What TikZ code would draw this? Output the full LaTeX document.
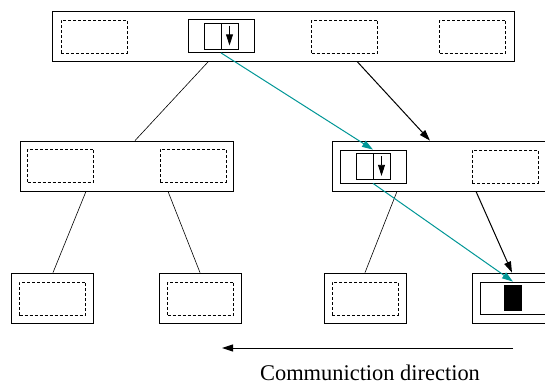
\documentclass[tikz,border=0pt]{standalone}
\usepackage{fontspec}
\setmainfont{Liberation Serif}
\usepackage{tikz}
\usetikzlibrary{calc,arrows.meta}
\definecolor{flow}{RGB}{0,150,150}

\begin{document}
\begin{tikzpicture}[x=1bp,y=-1bp,>={Triangle[length=11bp,width=7bp]},
  box/.style={draw,line width=0.8bp,inner sep=0pt,minimum height=50bp},
  dbox/.style={draw,dash pattern=on 3bp off 2bp,line width=0.7bp,inner sep=0pt,minimum width=66bp,minimum height=33bp},
  sbox/.style={draw,line width=0.8bp,inner sep=0pt,minimum width=66bp,minimum height=33bp},
  half/.style={draw,line width=0.7bp,inner sep=0pt,minimum width=17bp,minimum height=26bp}]
  \useasboundingbox (0,0) rectangle (545,385);
  \begin{scope}
    \clip (0,0) rectangle (545,385);
    % root level
    \node[box,minimum width=462bp] (root) at (283,36) {};
    \node[dbox] (r1) at (94,36.5) {};
    \node[sbox] (rbox) at (221,36) {};
    \node[half] (rl) at (212.5,36) {};
    \node[half] (rr) at (229.5,36) {};
    \node[dbox] (r3) at (344.5,36.5) {};
    \node[dbox] (r4) at (472.5,36.5) {};
    % middle level
    \node[box,minimum width=213bp] (midL) at (126.5,166) {};
    \node[dbox] (m1) at (60.5,165.5) {};
    \node[dbox] (m2) at (193,165.5) {};
    \node[box,minimum width=216bp] (midR) at (440,166) {};
    \node[sbox] (mbox) at (373,166.5) {};
    \node[half] (ml) at (364.5,166.5) {};
    \node[half] (mr) at (381.5,166.5) {};
    \node[dbox] (m4) at (505,166.5) {};
    % leaves
    \node[box,minimum width=82bp] (leafA) at (52.5,298) {};
    \node[dbox] (l1) at (52.5,298.5) {};
    \node[box,minimum width=82bp] (leafB) at (200.5,298) {};
    \node[dbox] (l2) at (200.5,298.5) {};
    \node[box,minimum width=82bp] (leafC) at (365,298) {};
    \node[dbox] (l3) at (365,298.5) {};
    \node[box,minimum width=82bp] (leafD) at (513,298) {};
    \node[sbox,minimum height=32bp] (bbox) at (513,298) {};
    \node[fill,inner sep=0pt,minimum width=18bp,minimum height=26bp] (blk) at (513,298) {};
    % small down arrows
    \draw[->,line width=0.8bp] ([yshift=-3bp]rr.north) -- ([yshift=4bp]rr.south);
    \draw[->,line width=0.8bp] ([yshift=-3bp]mr.north) -- ([yshift=4bp]mr.south);
    % tree edges
    \draw[line width=0.6bp] ([xshift=-74.5bp]root.south) -- ([xshift=8.5bp]midL.north);
    \draw[line width=0.6bp] ([xshift=-40.5bp]midL.south) -- ([xshift=0.5bp]leafA.north);
    \draw[line width=0.6bp] ([xshift=41.5bp]midL.south) -- ([xshift=-0.5bp]leafB.north);
    \draw[line width=0.6bp] ([xshift=-43bp]midR.south) -- (leafC.north);
    \draw[->,line width=1bp] ([xshift=74bp]root.south) -- ([xshift=-10bp]midR.north);
    \draw[->,line width=1bp] ([xshift=36bp]midR.south) -- ([xshift=-1bp]leafD.north);
    % flow path
    \draw[->,flow,line width=1bp] (rbox.south) -- (mbox.north);
    \draw[->,flow,line width=1bp] (mbox.south) -- (bbox.north);
  \end{scope}
  % direction
  \coordinate (dirR) at (513,348);
  \coordinate (dirL) at (222,348);
  \draw[->,line width=1bp] (dirR) -- (dirL);
  \node[font=\fontsize{22.5}{26}\selectfont] (dirtext) at (370,373) {Communiction direction};
\end{tikzpicture}
\end{document}
